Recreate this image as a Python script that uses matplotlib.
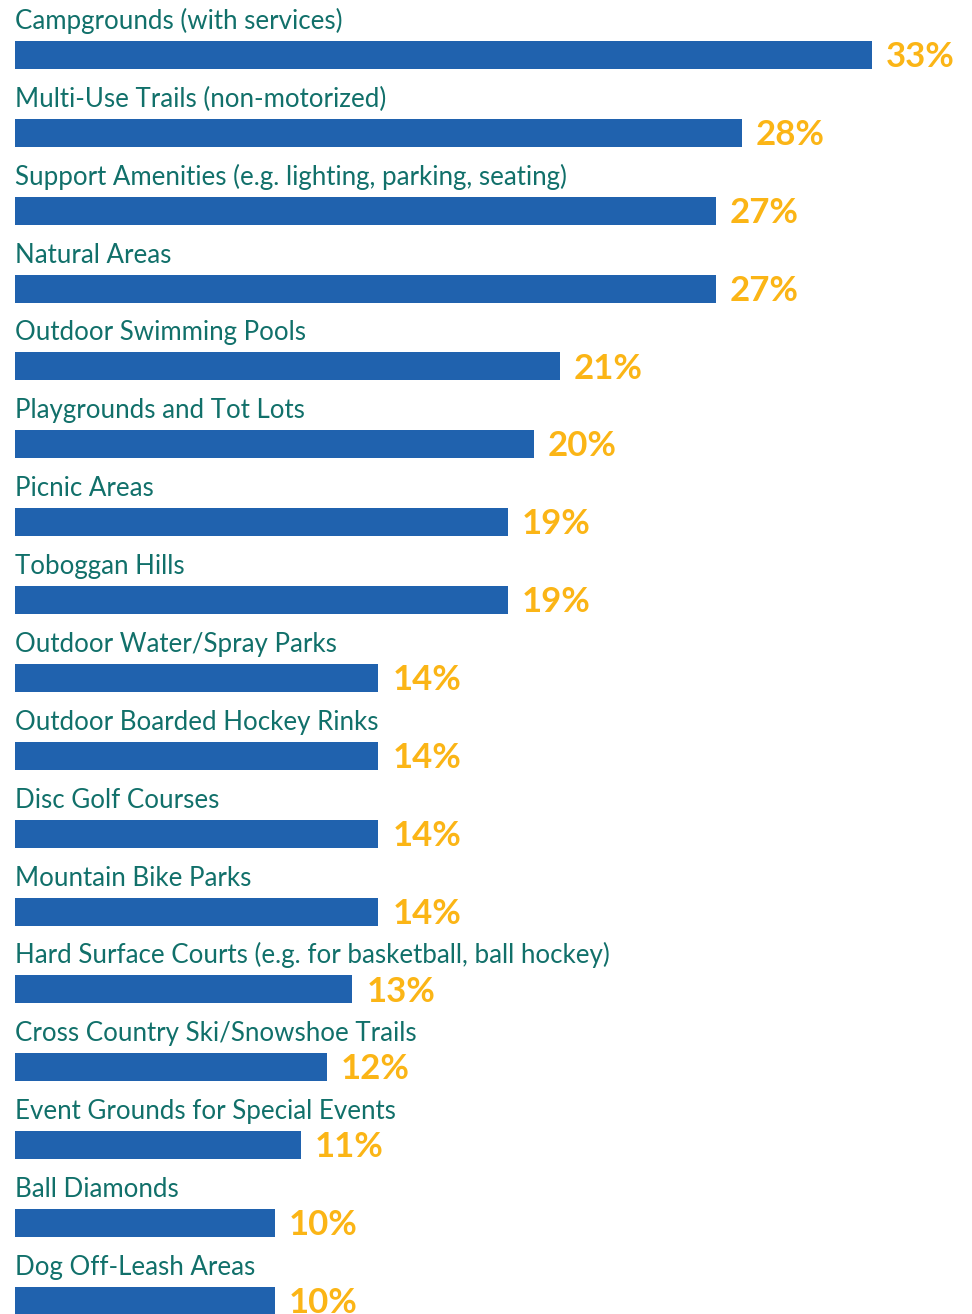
import matplotlib.pyplot as plt

# survey results: share of respondents per amenity
amenities = [
    "Campgrounds (with services)",
    "Multi-Use Trails (non-motorized)",
    "Support Amenities (e.g. lighting, parking, seating)",
    "Natural Areas",
    "Outdoor Swimming Pools",
    "Playgrounds and Tot Lots",
    "Picnic Areas",
    "Toboggan Hills",
    "Outdoor Water/Spray Parks",
    "Outdoor Boarded Hockey Rinks",
    "Disc Golf Courses",
    "Mountain Bike Parks",
    "Hard Surface Courts (e.g. for basketball, ball hockey)",
    "Cross Country Ski/Snowshoe Trails",
    "Event Grounds for Special Events",
    "Ball Diamonds",
    "Dog Off-Leash Areas",
]
percents = [33, 28, 27, 27, 21, 20, 19, 19, 14, 14, 14, 14, 13, 12, 11, 10, 10]

bar_color = "#2062ae"
label_color = "#11706a"
value_color = "#fbb516"

W, H = 972, 1314
fig = plt.figure(figsize=(W / 100, H / 100), dpi=100)
ax = fig.add_axes([0, 0, 1, 1])

px_per_pct = 25.96
row = 77.87
x0 = 15
y0 = 55

ypos = list(range(len(amenities)))
ax.barh(ypos, percents, height=28 / row, color=bar_color)

for i, (name, p) in enumerate(zip(amenities, percents)):
    ax.text(0.0, i - 26 / row, name, color=label_color, fontsize=18.6,
            family="Lato", va="baseline", ha="left")
    ax.annotate(f"{p}%", (p, i), xytext=(10, -1.5), textcoords="offset points",
                color=value_color, fontsize=25, fontweight="bold",
                family="Lato", va="center", ha="left")

ax.set_xlim(-x0 / px_per_pct, (W - x0) / px_per_pct)
ax.set_ylim((H - y0) / row, -y0 / row)
ax.axis("off")

fig.savefig("out.png", dpi=100)
